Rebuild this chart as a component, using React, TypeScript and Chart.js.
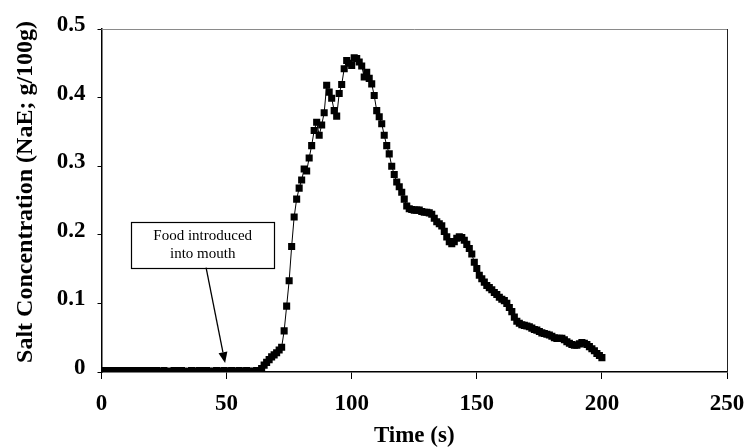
import React, { useEffect, useRef } from "react";
import { Chart, registerables } from "chart.js";

Chart.register(...registerables);

// ---- data (time in seconds, salt concentration in g/100g NaE) ----
const baselineTimes = [
  0, 1, 2, 3, 4, 5, 6, 7, 8, 9, 10, 11, 12, 13, 14, 15, 16, 17, 18, 19, 20,
  21, 22, 23, 24, 25, 26, 27, 28, 29, 30, 31, 32, 33, 34, 35, 36, 37, 38, 39,
  40, 41, 42, 43, 44, 45, 46, 47, 48, 49, 50, 51, 52, 53, 54, 55, 56, 57, 58,
  59, 60, 61, 62,
];
const baselineSalt = [
  0.002, 0.002, 0.001, 0.002, 0.002, 0.001, 0.002, 0.002, 0.002, 0.001,
  0.002, 0.002, 0.001, 0.002, 0.002, 0.002, 0.001, 0.002, 0.002, 0.002,
  0.001, 0.002, 0.002, 0.001, 0.001, 0.002, 0.0, 0.001, 0.001, 0.002,
  0.002, 0.001, 0.002, 0.001, 0.0, 0.001, 0.002, 0.001, 0.001, 0.002,
  0.002, 0.001, 0.002, 0.001, 0.001, 0.001, 0.002, 0.001, 0.001, 0.002,
  0.001, 0.001, 0.002, 0.001, 0.001, 0.002, 0.001, 0.001, 0.002, 0.001,
  0.001, 0.001, 0.002,
];

const riseTimes = [
  63, 64, 65, 66, 67, 68, 69, 70, 71, 72, 73, 74, 75, 76, 77, 78, 79, 80, 81,
  82, 83, 84, 85, 86, 87, 88, 89, 90, 91, 92, 93, 94, 95, 96, 97, 98, 99, 100,
];
const riseSalt = [
  0.002, 0.005, 0.01, 0.014, 0.018, 0.022, 0.025, 0.028, 0.032, 0.036, 0.06,
  0.096, 0.133, 0.183, 0.226, 0.252, 0.268, 0.28, 0.296, 0.293, 0.312, 0.33,
  0.352, 0.364, 0.345, 0.36, 0.378, 0.418, 0.408, 0.399, 0.381, 0.373, 0.406,
  0.419, 0.442, 0.454, 0.45, 0.447,
];

const declineTimes = [
  101, 102, 103, 104, 105, 106, 107, 108, 109, 110, 111, 112, 113, 114, 115,
  116, 117, 118, 119, 120, 121, 122, 123, 124, 125, 126, 127, 128, 129, 130,
  131, 132, 133, 134, 135, 136, 137, 138, 139, 140, 141, 142, 143, 144, 145,
  146, 147, 148, 149, 150,
];
const declineSalt = [
  0.458, 0.457, 0.452, 0.446, 0.43, 0.437, 0.428, 0.42, 0.403, 0.381, 0.372,
  0.362, 0.345, 0.33, 0.318, 0.3, 0.288, 0.277, 0.27, 0.262, 0.252, 0.242,
  0.238, 0.237, 0.236, 0.236, 0.236, 0.234, 0.233, 0.233, 0.232, 0.23, 0.224,
  0.219, 0.216, 0.213, 0.205, 0.197, 0.19, 0.187, 0.19, 0.195, 0.197, 0.196,
  0.192, 0.186, 0.18, 0.172, 0.16, 0.151,
];

const tailTimes = [
  151, 152, 153, 154, 155, 156, 157, 158, 159, 160, 161, 162, 163, 164, 165,
  166, 167, 168, 169, 170, 171, 172, 173, 174, 175, 176, 177, 178, 179, 180,
  181, 182, 183, 184, 185, 186, 187, 188, 189, 190, 191, 192, 193, 194, 195,
  196, 197, 198, 199, 200,
];
const tailSalt = [
  0.141, 0.136, 0.131, 0.126, 0.123, 0.12, 0.116, 0.113, 0.109, 0.106, 0.104,
  0.1, 0.094, 0.088, 0.08, 0.074, 0.071, 0.069, 0.068, 0.067, 0.066, 0.064,
  0.062, 0.061, 0.059, 0.057, 0.056, 0.055, 0.054, 0.052, 0.05, 0.049, 0.049,
  0.049, 0.047, 0.044, 0.042, 0.04, 0.039, 0.039, 0.041, 0.043, 0.042, 0.04,
  0.037, 0.034, 0.031, 0.027, 0.024, 0.021,
];

const xTickValues = [0, 50, 100, 150, 200, 250];
const yTickValues = [0, 0.1, 0.2, 0.3, 0.4, 0.5];
const xTitle = "Time (s)";
const yTitle = "Salt Concentration (NaE; g/100g)";
const noteLines = ["Food introduced", "into mouth"];
// annotation anchors in data units
const noteBox = { tFrom: 11.8, tTo: 69.1, vTop: 0.219, vBottom: 0.152 };
const arrowFrom = { t: 41.8, v: 0.152 };
const arrowTo = { t: 49.4, v: 0.013 };

const FONT = "'Liberation Serif', 'Times New Roman', serif";

export default function App() {
  const ref = useRef<HTMLCanvasElement | null>(null);

  useEffect(() => {
    const canvas = ref.current;
    if (!canvas) return;
    const times = [...baselineTimes, ...riseTimes, ...declineTimes, ...tailTimes];
    const salt = [...baselineSalt, ...riseSalt, ...declineSalt, ...tailSalt];
    const points = times.map((t, i) => ({ x: t, y: salt[i] }));

    const decor = {
      id: "decor",
      afterDraw(chart: any) {
        const { ctx, chartArea, scales } = chart;
        const xs = scales.x;
        const ys = scales.y;
        ctx.save();
        // top & right frame
        ctx.lineWidth = 1;
        ctx.strokeStyle = "#8a8a8a";
        ctx.beginPath();
        ctx.moveTo(chartArea.left, Math.round(chartArea.top) + 0.5);
        ctx.lineTo(chartArea.right, Math.round(chartArea.top) + 0.5);
        ctx.stroke();
        ctx.strokeStyle = "#222";
        ctx.beginPath();
        ctx.moveTo(Math.round(chartArea.right) + 0.5, chartArea.top);
        ctx.lineTo(Math.round(chartArea.right) + 0.5, chartArea.bottom);
        ctx.stroke();

        // annotation box
        const bx1 = xs.getPixelForValue(noteBox.tFrom);
        const bx2 = xs.getPixelForValue(noteBox.tTo);
        const by1 = ys.getPixelForValue(noteBox.vTop);
        const by2 = ys.getPixelForValue(noteBox.vBottom);
        ctx.fillStyle = "#fff";
        ctx.fillRect(bx1, by1, bx2 - bx1, by2 - by1);
        ctx.strokeStyle = "#000";
        ctx.lineWidth = 1.2;
        ctx.strokeRect(Math.round(bx1) + 0.5, Math.round(by1) + 0.5, Math.round(bx2 - bx1), Math.round(by2 - by1));
        ctx.fillStyle = "#000";
        ctx.font = `15px ${FONT}`;
        ctx.textAlign = "center";
        ctx.textBaseline = "middle";
        const cx = (bx1 + bx2) / 2;
        const midY = (by1 + by2) / 2;
        ctx.fillText(noteLines[0], cx, midY - 9);
        ctx.fillText(noteLines[1], cx, midY + 9);

        // arrow
        const ax1 = xs.getPixelForValue(arrowFrom.t);
        const ay1 = ys.getPixelForValue(arrowFrom.v);
        const ax2 = xs.getPixelForValue(arrowTo.t);
        const ay2 = ys.getPixelForValue(arrowTo.v);
        const ang = Math.atan2(ay2 - ay1, ax2 - ax1);
        const headLen = 11;
        const headHalf = 4.5;
        const bxh = ax2 - headLen * Math.cos(ang);
        const byh = ay2 - headLen * Math.sin(ang);
        ctx.lineWidth = 1.3;
        ctx.beginPath();
        ctx.moveTo(ax1, ay1);
        ctx.lineTo(bxh, byh);
        ctx.stroke();
        ctx.beginPath();
        ctx.moveTo(ax2, ay2);
        ctx.lineTo(bxh + headHalf * Math.sin(ang), byh - headHalf * Math.cos(ang));
        ctx.lineTo(bxh - headHalf * Math.sin(ang), byh + headHalf * Math.cos(ang));
        ctx.closePath();
        ctx.fill();

        // axis titles
        ctx.font = `bold 23px ${FONT}`;
        ctx.textAlign = "center";
        ctx.textBaseline = "middle";
        ctx.fillText(xTitle, (chartArea.left + chartArea.right) / 2, 436);
        ctx.font = `bold 24px ${FONT}`;
        ctx.translate(26, chartArea.top + (chartArea.bottom - chartArea.top) * 0.475);
        ctx.rotate(-Math.PI / 2);
        ctx.fillText(yTitle, 0, 0);
        ctx.restore();
      },
    };

    const chart = new Chart(canvas, {
      type: "line",
      data: {
        datasets: [
          {
            data: points,
            borderColor: "#000",
            borderWidth: 1,
            pointStyle: "rect",
            pointRadius: 5,
            pointBackgroundColor: "#000",
            pointBorderWidth: 0,
            tension: 0,
          },
        ],
      },
      options: {
        responsive: false,
        animation: false,
        devicePixelRatio: 1,
        layout: { padding: { top: 29, right: 18, left: 0, bottom: 0 } },
        plugins: { legend: { display: false }, tooltip: { enabled: false } },
        scales: {
          x: {
            type: "linear",
            min: 0,
            max: 250,
            afterBuildTicks: (scale: any) => {
              scale.ticks = xTickValues.map((v) => ({ value: v }));
            },
            ticks: {
              color: "#000",
              font: { family: FONT, size: 23, weight: "bold" },
              padding: 11,
              maxRotation: 0,
              callback: (v: any) => String(v),
            },
            grid: {
              display: true,
              drawOnChartArea: false,
              drawTicks: true,
              tickLength: 7,
              color: "#000",
              lineWidth: 1,
            },
            border: { display: true, color: "#000", width: 1.5 },
            afterFit: (scale: any) => {
              scale.height = 76;
              scale.paddingLeft = 0;
              scale.paddingRight = 0;
            },
          },
          y: {
            type: "linear",
            min: 0,
            max: 0.5,
            afterBuildTicks: (scale: any) => {
              scale.ticks = yTickValues.map((v) => ({ value: v }));
            },
            ticks: {
              color: "#000",
              font: { family: FONT, size: 23, weight: "bold" },
              padding: 12,
              labelOffset: -4,
              callback: (v: any) => (Number(v) === 0 ? "0" : Number(v).toFixed(1)),
            },
            grid: {
              display: true,
              drawOnChartArea: false,
              drawTicks: true,
              tickLength: 4,
              color: "#000",
              lineWidth: 1,
            },
            border: { display: true, color: "#000", width: 1.5 },
            afterFit: (scale: any) => {
              scale.width = 101.5;
              scale.paddingTop = 0;
              scale.paddingBottom = 0;
            },
          },
        },
      },
      plugins: [decor],
    });

    return () => chart.destroy();
  }, []);

  return (
    <div style={{ position: "fixed", left: 0, top: 0, width: 745, height: 448, background: "#fff" }}>
      <canvas ref={ref} width={745} height={448} style={{ display: "block", width: 745, height: 448 }} />
    </div>
  );
}
